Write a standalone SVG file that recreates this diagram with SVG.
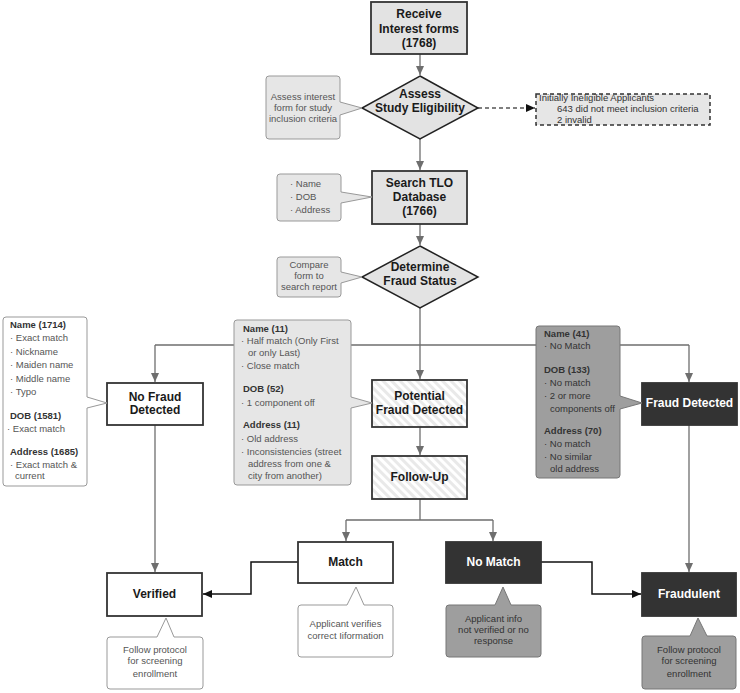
<svg xmlns="http://www.w3.org/2000/svg" width="740" height="693" viewBox="0 0 740 693">
<defs>
<marker id="ag" markerUnits="userSpaceOnUse" markerWidth="10" markerHeight="8" refX="9" refY="4" orient="auto"><path d="M0,0 L9,4 L0,8 Z" fill="#6e6e6e"/></marker>
<marker id="ab" markerUnits="userSpaceOnUse" markerWidth="10" markerHeight="8" refX="9" refY="4" orient="auto"><path d="M0,0 L9,4 L0,8 Z" fill="#111"/></marker>
<pattern id="stripe" patternUnits="userSpaceOnUse" width="6" height="6" patternTransform="rotate(-45)"><rect width="6" height="6" fill="#fff"/><rect width="3" height="6" fill="#e9e9e9"/></pattern>
</defs>
<style>
.box{stroke:#333;stroke-width:1.8}
.lt{fill:#e3e3e3}
.wh{fill:#fff}
.dk{fill:#333}
.st{fill:url(#stripe)}
.dia{fill:#e3e3e3;stroke:#222;stroke-width:1.5}
.t{font-family:"Liberation Sans",Arial,sans-serif;font-size:12px;font-weight:bold;fill:#1a1a1a;text-anchor:middle}
.tw{fill:#fff}
.n{font-family:"Liberation Sans",Arial,sans-serif;font-size:9.5px;fill:#555}
.nc{text-anchor:middle}
.nd{fill:#333}
.h{font-weight:bold;fill:#333}
.note{fill:#e6e6e6;stroke:#999;stroke-width:1}
.noteW{fill:#fff;stroke:#999;stroke-width:1}
.noteG{fill:#9e9e9e;stroke:#777;stroke-width:1}
.c{fill:none;stroke:#6e6e6e;stroke-width:1.3}
.cb{fill:none;stroke:#111;stroke-width:1.5}
</style>
<g id="connectors">
<path class="c" d="M420,54 V75" marker-end="url(#ag)"/>
<path class="c" d="M420,139 V170" marker-end="url(#ag)"/>
<path class="c" d="M420,224 V245" marker-end="url(#ag)"/>
<path class="c" d="M420,308 V379" marker-end="url(#ag)"/>
<path class="c" d="M155,345 H689"/>
<path class="c" d="M155,345 V382" marker-end="url(#ag)"/>
<path class="c" d="M689,345 V382" marker-end="url(#ag)"/>
<path class="c" d="M420,427 V455" marker-end="url(#ag)"/>
<path class="c" d="M420,499 V520 M346,520 H493"/>
<path class="c" d="M346,520 V541" marker-end="url(#ag)"/>
<path class="c" d="M493,520 V541" marker-end="url(#ag)"/>
<path class="c" d="M155,425 V572" marker-end="url(#ag)"/>
<path class="c" d="M689,425 V572" marker-end="url(#ag)"/>
<path class="cb" d="M298,562 H251 V594 H203" marker-end="url(#ab)"/>
<path class="cb" d="M541,562 H592 V594 H641" marker-end="url(#ab)"/>
<path fill="none" stroke="#555" stroke-width="1.5" stroke-dasharray="4,3" d="M478,108 H535" marker-end="url(#ab)"/>
</g>
<g id="receive"><rect class="box lt" x="371" y="2" width="96" height="52"/><text class="t" x="419" y="18">Receive</text><text class="t" x="419" y="32.5">Interest forms</text><text class="t" x="419" y="47">(1768)</text></g>
<g id="assess"><polygon class="dia" points="420,76 478,108 420,139 362,108"/><text class="t" x="420" y="97.5">Assess</text><text class="t" x="420" y="111.5">Study Eligibility</text></g>
<g id="assess-note"><path class="note" d="M269,76 H337 A3,3 0 0 1 340,79 V102 L362,108 L340,115 V136 A3,3 0 0 1 337,139 H269 A3,3 0 0 1 266,136 V79 A3,3 0 0 1 269,76 Z"/><text class="n nc" x="303" y="100">Assess interest</text><text class="n nc" x="303" y="110.7">form for study</text><text class="n nc" x="303" y="121.7">inclusion criteria</text></g>
<g id="ineligible"><rect x="536" y="94" width="174" height="31" fill="#e6e6e6" stroke="#333" stroke-width="1.5" stroke-dasharray="4,3"/><text class="n nd" x="539" y="100.5">Initially Ineligible Applicants</text><text class="n nd" x="557" y="111.7">643 did not meet inclusion criteria</text><text class="n nd" x="557" y="122.7">2 invalid</text></g>
<g id="search"><rect class="box lt" x="372" y="171" width="95" height="53"/><text class="t" x="419.5" y="186.5">Search TLO</text><text class="t" x="419.5" y="200.5">Database</text><text class="t" x="419.5" y="214.5">(1766)</text></g>
<g id="search-note"><path class="note" d="M280,174 H338 A3,3 0 0 1 341,177 V192 L372,197 L341,203 V218 A3,3 0 0 1 338,221 H280 A3,3 0 0 1 277,218 V177 A3,3 0 0 1 280,174 Z"/><text class="n" x="290" y="186.7">· Name</text><text class="n" x="290" y="200">· DOB</text><text class="n" x="290" y="213.4">· Address</text></g>
<g id="determine"><polygon class="dia" points="420,246 478,277 420,308 362,277"/><text class="t" x="420" y="271">Determine</text><text class="t" x="420" y="284.5">Fraud Status</text></g>
<g id="determine-note"><path class="note" d="M280,257 H338 A3,3 0 0 1 341,260 V272 L362,277 L341,283 V294 A3,3 0 0 1 338,297 H280 A3,3 0 0 1 277,294 V260 A3,3 0 0 1 280,257 Z"/><text class="n nc" x="309" y="267.7">Compare</text><text class="n nc" x="309" y="279.4">form to</text><text class="n nc" x="309" y="290">search report</text></g>
<g id="no-fraud"><rect class="box wh" x="107" y="383" width="96" height="42"/><text class="t" x="155" y="400.5">No Fraud</text><text class="t" x="155" y="413.5">Detected</text></g>
<g id="no-fraud-note"><path class="noteW" d="M6,317 H84 A3,3 0 0 1 87,320 V397 L107,403 L87,408 V483 A3,3 0 0 1 84,486 H6 A3,3 0 0 1 3,483 V320 A3,3 0 0 1 6,317 Z"/>
<text class="n h" x="10" y="328.4">Name (1714)</text><text class="n" x="10" y="340.7">· Exact match</text><text class="n" x="10" y="354.7">· Nickname</text><text class="n" x="10" y="368.1">· Maiden name</text><text class="n" x="10" y="381.7">· Middle name</text><text class="n" x="10" y="395.1">· Typo</text>
<text class="n h" x="10" y="419.4">DOB (1581)</text><text class="n" x="7" y="431.7">· Exact match</text>
<text class="n h" x="10" y="455.1">Address (1685)</text><text class="n" x="10" y="468.1">· Exact match &amp;</text><text class="n" x="15" y="479.4">current</text></g>
<g id="potential"><rect class="box st" x="372" y="380" width="95" height="47"/><text class="t" x="419.5" y="399.5">Potential</text><text class="t" x="419.5" y="413.5">Fraud Detected</text></g>
<g id="potential-note"><path class="note st" stroke="#999" d="M237,320 H348 A3,3 0 0 1 351,323 V397 L372,403 L351,408 V482 A3,3 0 0 1 348,485 H237 A3,3 0 0 1 234,482 V323 A3,3 0 0 1 237,320 Z"/>
<text class="n h" x="243" y="331.7">Name (11)</text><text class="n" x="241" y="344.1">· Half match (Only First</text><text class="n" x="248" y="356.1">or only Last)</text><text class="n" x="241" y="369.1">· Close match</text>
<text class="n h" x="243" y="392.4">DOB (52)</text><text class="n" x="241" y="405.7">· 1 component off</text>
<text class="n h" x="243" y="428.4">Address (11)</text><text class="n" x="241" y="441.7">· Old address</text><text class="n" x="241" y="455.1">· Inconsistencies (street</text><text class="n" x="248" y="467.4">address from one &amp;</text><text class="n" x="248" y="479.1">city from another)</text></g>
<g id="fraud-detected"><rect class="box dk" x="642" y="383" width="95" height="42"/><text class="t tw" x="689.5" y="406.5">Fraud Detected</text></g>
<g id="fraud-note"><path class="noteG" d="M539,326 H617 A3,3 0 0 1 620,329 V396 L642,403 L620,409 V475 A3,3 0 0 1 617,478 H539 A3,3 0 0 1 536,475 V329 A3,3 0 0 1 539,326 Z"/>
<text class="n h" x="544" y="337.4">Name (41)</text><text class="n nd" x="544" y="349.4">· No Match</text>
<text class="n h" x="544" y="373.4">DOB (133)</text><text class="n nd" x="544" y="386.1">· No match</text><text class="n nd" x="544" y="399.4">· 2 or more</text><text class="n nd" x="550" y="411.7">components off</text>
<text class="n h" x="544" y="434.1">Address (70)</text><text class="n nd" x="544" y="447.1">· No match</text><text class="n nd" x="544" y="460.1">· No similar</text><text class="n nd" x="550" y="472.4">old address</text></g>
<g id="follow-up"><rect class="box st" x="372" y="456" width="95" height="43"/><text class="t" x="419.5" y="481">Follow-Up</text></g>
<g id="match"><rect class="box wh" x="298" y="542" width="95" height="41"/><text class="t" x="345.5" y="565.5">Match</text></g>
<g id="match-note"><path class="noteW" d="M301,605 H347 L356,587 L364,605 H390 A3,3 0 0 1 393,608 V654 A3,3 0 0 1 390,657 H301 A3,3 0 0 1 298,654 V608 A3,3 0 0 1 301,605 Z"/><text class="n nc" x="345.5" y="627.4">Applicant verifies</text><text class="n nc" x="345.5" y="639.4">correct Iiformation</text></g>
<g id="no-match"><rect class="box dk" x="446" y="542" width="95" height="41"/><text class="t tw" x="493.5" y="565.5">No Match</text></g>
<g id="no-match-note"><path class="noteG" d="M449,605 H495 L503,587 L511,605 H538 A3,3 0 0 1 541,608 V654 A3,3 0 0 1 538,657 H449 A3,3 0 0 1 446,654 V608 A3,3 0 0 1 449,605 Z"/><text class="n nc nd" x="493.5" y="621.7">Applicant info</text><text class="n nc nd" x="493.5" y="633">not verified or no</text><text class="n nc nd" x="493.5" y="644.4">response</text></g>
<g id="verified"><rect class="box wh" x="107" y="573" width="95" height="43"/><text class="t" x="154.5" y="597.5">Verified</text></g>
<g id="verified-note"><path class="noteW" d="M110,637 H157 L166,618 L174,637 H200 A3,3 0 0 1 203,640 V686 A3,3 0 0 1 200,689 H110 A3,3 0 0 1 107,686 V640 A3,3 0 0 1 110,637 Z"/><text class="n nc" x="155" y="652.7">Follow protocol</text><text class="n nc" x="155" y="664.4">for screening</text><text class="n nc" x="155" y="676.7">enrollment</text></g>
<g id="fraudulent"><rect class="box dk" x="642" y="573" width="94" height="43"/><text class="t tw" x="689" y="597.5">Fraudulent</text></g>
<g id="fraudulent-note"><path class="noteG" d="M645,636 H690 L698,618 L707,636 H733 A3,3 0 0 1 736,639 V686 A3,3 0 0 1 733,689 H645 A3,3 0 0 1 642,686 V639 A3,3 0 0 1 645,636 Z"/><text class="n nc nd" x="689" y="652.7">Follow protocol</text><text class="n nc nd" x="689" y="664.4">for screening</text><text class="n nc nd" x="689" y="676.7">enrollment</text></g>
</svg>
